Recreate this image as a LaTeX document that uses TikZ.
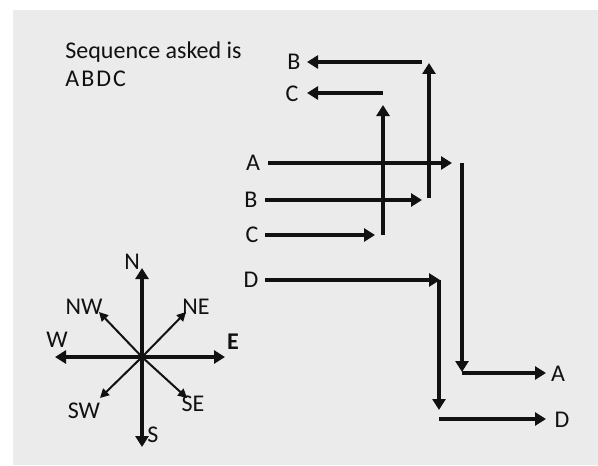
\documentclass[tikz,border=0pt]{standalone}
\usepackage{fontspec}
\setmainfont{Carlito}
\usetikzlibrary{arrows.meta, positioning}
\definecolor{bgGray}{HTML}{EBEBEB}
\definecolor{inkBlack}{HTML}{111111}

\begin{document}
\begin{tikzpicture}[
    x=0.5pt, y=-0.5pt,
    lbl/.style={inner sep=0pt, font=\fontsize{12}{14}\selectfont, text=inkBlack},
    run/.style={draw=inkBlack, line width=1.6pt, -{Triangle[length=5.5pt, width=6.5pt]}},
    dir/.style={draw=inkBlack, line width=1.6pt, -{Triangle[length=5.5pt, width=6.5pt]}},
    diag/.style={draw=inkBlack, line width=1pt, -{Triangle[length=4.5pt, width=4.5pt]}},
]
    % page and background
    \useasboundingbox (0,0) rectangle (598,465);
    \fill[bgGray] (13,10) rectangle (598,465);

    % note
    \node[lbl, anchor=west, align=left] (note) at (65,64) {Sequence asked is\\A\kern1ptB\kern1ptD\kern1ptC};

    % start labels
    \node[lbl] (aIn) at (253,163) {A};
    \node[lbl] (bIn) at (251,200) {B};
    \node[lbl] (cIn) at (252,235) {C};
    \node[lbl] (dIn) at (251,280) {D};

    % end labels
    \node[lbl] (bOut) at (294,62) {B};
    \node[lbl] (cOut) at (292,94) {C};
    \node[lbl] (aOut) at (558,374) {A};
    \node[lbl] (dOut) at (562,420) {D};

    % turning points
    \coordinate (aStart) at (268,163);
    \coordinate (aTip) at (452,163);
    \coordinate (aTop) at (462,163);
    \coordinate (aLow) at (462,372);
    \coordinate (aBase) at (462,373);
    \coordinate (aEnd) at (546,373);
    \coordinate (bStart) at (265,200);
    \coordinate (bTip) at (422,200);
    \coordinate (bLow) at (429,198);
    \coordinate (bHigh) at (429,63);
    \coordinate (bTurn) at (422,62);
    \coordinate (bEnd) at (307,62);
    \coordinate (cStart) at (265,235);
    \coordinate (cTip) at (375,235);
    \coordinate (cLow) at (383,235);
    \coordinate (cHigh) at (383,105);
    \coordinate (cTurn) at (383,93);
    \coordinate (cEnd) at (307,93);
    \coordinate (dStart) at (265,280);
    \coordinate (dTip) at (440,280);
    \coordinate (dTop) at (439,280);
    \coordinate (dLow) at (439,410);
    \coordinate (dBase) at (439,419);
    \coordinate (dEnd) at (546,419);

    % path of A
    \draw[run] (aStart) -- (aTip);
    \draw[run] (aTop) -- (aLow);
    \draw[run] (aBase) -- (aEnd);
    % path of B
    \draw[run] (bStart) -- (bTip);
    \draw[run] (bLow) -- (bHigh);
    \draw[run] (bTurn) -- (bEnd);
    % path of C
    \draw[run] (cStart) -- (cTip);
    \draw[run] (cLow) -- (cHigh);
    \draw[run] (cTurn) -- (cEnd);
    % path of D
    \draw[run] (dStart) -- (dTip);
    \draw[run] (dTop) -- (dLow);
    \draw[run] (dBase) -- (dEnd);

    % compass
    \coordinate (ctr) at (142,357);
    \coordinate (nTip) at (142,268);
    \coordinate (sTip) at (142,447);
    \coordinate (wTip) at (55,357);
    \coordinate (eTip) at (225,357);
    \coordinate (neTip) at (186,312);
    \coordinate (nwTip) at (99,312);
    \coordinate (swTip) at (100,398);
    \coordinate (seTip) at (187,398);
    \draw[dir] (ctr) -- (nTip);
    \draw[dir] (ctr) -- (sTip);
    \draw[dir] (ctr) -- (wTip);
    \draw[dir] (ctr) -- (eTip);
    \draw[diag] (ctr) -- (neTip);
    \draw[diag] (ctr) -- (nwTip);
    \draw[diag] (ctr) -- (swTip);
    \draw[diag] (ctr) -- (seTip);
    \node[lbl] (nLbl) at (132,262) {N};
    \node[lbl] (sLbl) at (153,435) {S};
    \node[lbl] (wLbl) at (57,340) {W};
    \node[lbl] (eLbl) at (233,342) {\textbf{E}};
    \node[lbl] (neLbl) at (196,307) {NE};
    \node[lbl] (nwLbl) at (84,307) {NW};
    \node[lbl] (swLbl) at (84,411) {SW};
    \node[lbl] (seLbl) at (193,404) {SE};
\end{tikzpicture}
\end{document}
